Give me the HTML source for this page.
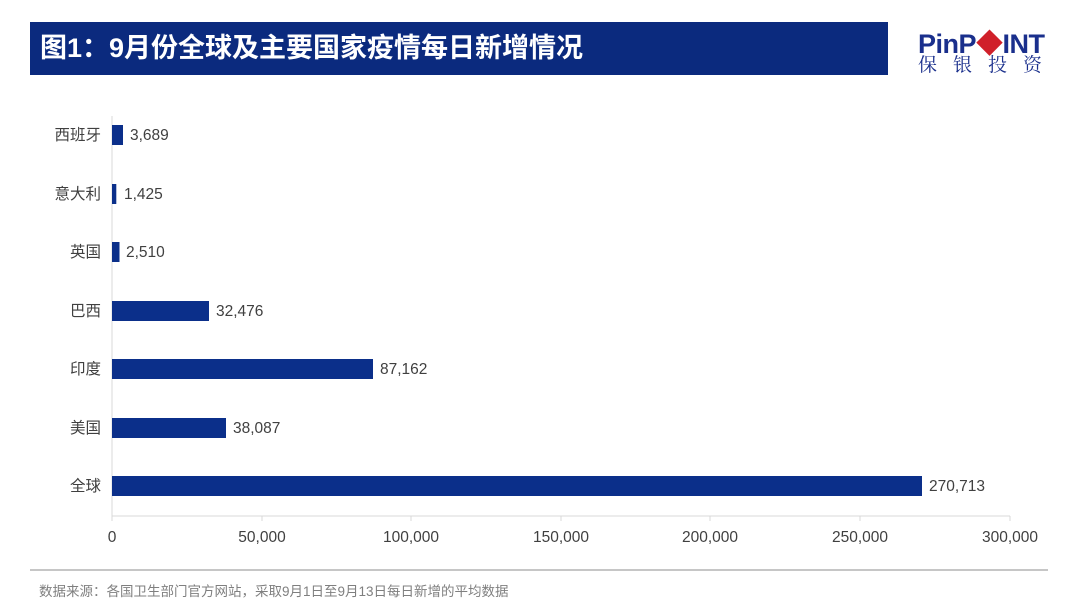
<!DOCTYPE html>
<html><head><meta charset="utf-8"><style>
body{margin:0;width:1080px;height:608px;background:#fff;position:relative;overflow:hidden;font-family:"Liberation Sans","Noto Sans CJK SC",sans-serif;}
.t{position:absolute;left:30px;top:22px;width:858px;height:53px;background:#0b2a7e;color:#fff;font-weight:bold;font-size:27px;line-height:53px;box-sizing:border-box;padding-left:10px;}
.logo{position:absolute;left:918px;top:22px;color:#1a2f8c;font-weight:900;font-size:27px;letter-spacing:-0.5px;}
.logo2{position:absolute;left:918px;top:50px;color:#1a2f8c;font-size:19px;letter-spacing:16px;font-family:"Noto Serif CJK SC",serif;}
</style></head><body>
<div class="t">图1：9月份全球及主要国家疫情每日新增情况</div>
<div class="logo">Pin<span>P</span><span style="color:#d0202a">◆</span>INT</div>
<div class="logo2">保银投资</div>
<svg width="1080" height="608" style="position:absolute;left:0;top:0" font-family="Liberation Sans,Noto Sans CJK SC,sans-serif">
<line x1="112" y1="516" x2="1010" y2="516" stroke="#d9d9d9"/>
<line x1="112" y1="116" x2="112" y2="516" stroke="#d9d9d9"/>
<g stroke="#d9d9d9"><line x1="112" y1="516" x2="112" y2="521"/><line x1="262" y1="516" x2="262" y2="521"/><line x1="411" y1="516" x2="411" y2="521"/><line x1="561" y1="516" x2="561" y2="521"/><line x1="710" y1="516" x2="710" y2="521"/><line x1="860" y1="516" x2="860" y2="521"/><line x1="1010" y1="516" x2="1010" y2="521"/></g>
<g font-size="15.5" fill="#404040" text-anchor="middle">
<text x="112" y="542">0</text><text x="262" y="542">50,000</text><text x="411" y="542">100,000</text><text x="561" y="542">150,000</text><text x="710" y="542">200,000</text><text x="860" y="542">250,000</text><text x="1010" y="542">300,000</text></g>
<g fill="#0b2f8a">
<rect x="112" y="125" width="11" height="20"/>
<rect x="112" y="184" width="4.3" height="20"/>
<rect x="112" y="242" width="7.5" height="20"/>
<rect x="112" y="301" width="97" height="20"/>
<rect x="112" y="359" width="261" height="20"/>
<rect x="112" y="418" width="114" height="20"/>
<rect x="112" y="476" width="810" height="20"/>
</g>
<g font-size="15.5" fill="#404040" text-anchor="end">
<text x="101" y="140">西班牙</text><text x="101" y="199">意大利</text><text x="101" y="257">英国</text><text x="101" y="316">巴西</text><text x="101" y="374">印度</text><text x="101" y="433">美国</text><text x="101" y="491">全球</text></g>
<g font-size="15.5" fill="#404040">
<text x="130" y="140">3,689</text><text x="124" y="199">1,425</text><text x="126" y="257">2,510</text><text x="216" y="316">32,476</text><text x="380" y="374">87,162</text><text x="233" y="433">38,087</text><text x="929" y="491">270,713</text></g>
<line x1="30" y1="570" x2="1048" y2="570" stroke="#8c8c8c"/>
<text x="39" y="596" font-size="13.5" fill="#7f7f7f">数据来源：各国卫生部门官方网站，采取9月1日至9月13日每日新增的平均数据</text>
</svg>
</body></html>
